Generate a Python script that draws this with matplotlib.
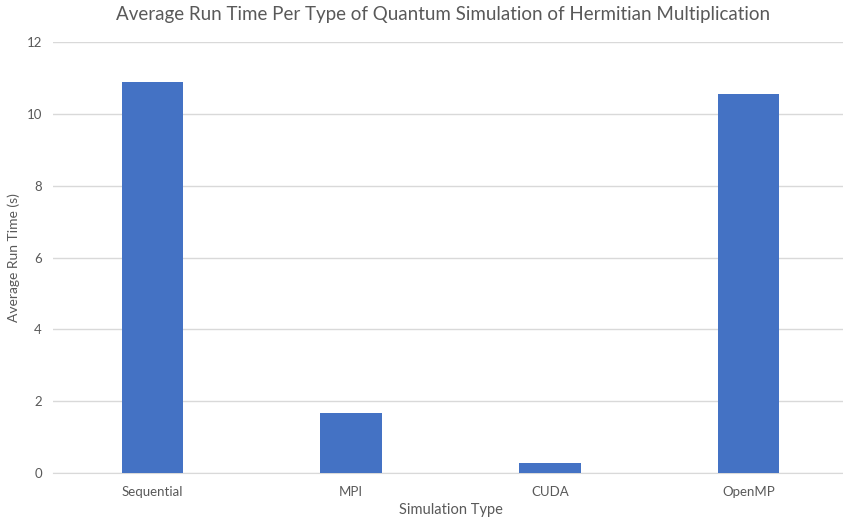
import matplotlib
matplotlib.use("Agg")
import matplotlib.pyplot as plt

categories = ["Sequential", "MPI", "CUDA", "OpenMP"]
run_times = [10.89, 1.67, 0.29, 10.54]
y_ticks = [0, 2, 4, 6, 8, 10, 12]

plt.rcParams['font.family'] = ['Lato', 'DejaVu Sans']
fig = plt.figure(figsize=(8.43, 5.23), dpi=100)
ax = fig.add_axes([0.063, 0.095, 1.006 - 0.063, 0.92 - 0.095])

x = list(range(len(categories)))
ax.bar(x, run_times, width=0.31, color="#4472C4", zorder=3)
ax.set_xlim(-0.5, len(categories) - 0.5)
ax.set_ylim(0, 12)
ax.set_yticks(y_ticks)
ax.set_xticks(x)
ax.set_xticklabels(categories)
ax.grid(axis="y", color="#D9D9D9", linewidth=1, zorder=0)
for s in ["top", "right", "left"]:
    ax.spines[s].set_visible(False)
ax.spines["bottom"].set_color("#D9D9D9")
ax.tick_params(axis="both", length=0, colors="#595959", labelsize=9.5)
ax.tick_params(axis="x", pad=9)
ax.tick_params(axis="y", pad=8)
ax.set_xlabel("Simulation Type", color="#595959", fontsize=10.5, labelpad=4)
ax.set_ylabel("Average Run Time (s)", color="#595959", fontsize=10, labelpad=5)
fig.text(0.526, 0.972, "Average Run Time Per Type of Quantum Simulation of Hermitian Multiplication",
         color="#595959", fontsize=13.5, ha="center", va="center")
fig.savefig("out.png", dpi=100)
